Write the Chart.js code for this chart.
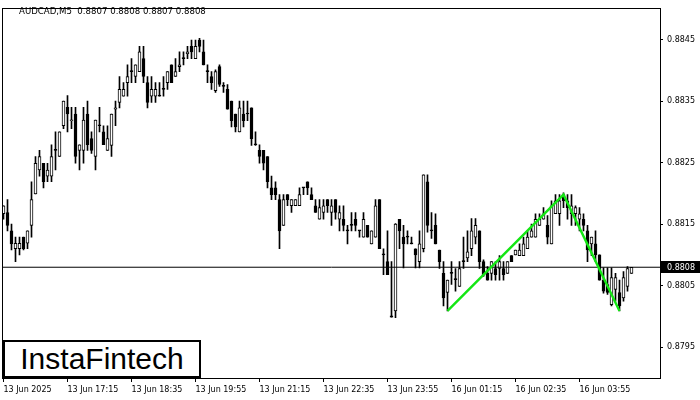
<!DOCTYPE html>
<html lang="en">
<head>
<meta charset="utf-8">
<title>AUDCAD,M5</title>
<script src="https://cdn.jsdelivr.net/npm/chart.js@4"></script>
<style>
  body { margin: 0; background: #fff; }
  #wrap { position: relative; width: 700px; height: 400px; }
  #hdr { position: absolute; left: 19px; top: 6px; font: 8.6px "DejaVu Sans", sans-serif; color: #000; white-space: pre; }
  #logo { position: absolute; left: 3px; top: 340px; width: 198px; height: 38px; box-sizing: border-box;
          border: 2px solid #000; background: #fff; font: 30px "Liberation Sans", Arial, sans-serif;
          line-height: 34px; text-align: center; color: #000; }
</style>
</head>
<body>
<div id="wrap">
  <canvas id="chart" width="700" height="400"></canvas>
  <div id="hdr">AUDCAD,M5  0.8807 0.8808 0.8807 0.8808</div>
  <div id="logo">InstaFintech</div>
</div>
<script>
// AUDCAD M5 candles, 13 Jun 15:55 -> 16 Jun 04:30
const openP = [0.88167,0.88169,0.88139,0.88110,0.88110,0.88129,0.88119,0.88148,0.88199,0.88238,
  0.88249,0.88228,0.88228,0.88270,0.88260,0.88310,0.88340,0.88318,0.88329,0.88270,
  0.88270,0.88329,0.88289,0.88260,0.88310,0.88300,0.88270,0.88278,0.88337,0.88348,
  0.88358,0.88380,0.88398,0.88390,0.88398,0.88419,0.88380,0.88358,0.88358,0.88358,
  0.88369,0.88380,0.88409,0.88390,0.88406,0.88419,0.88427,0.88439,0.88419,0.88449,
  0.88430,0.88398,0.88390,0.88367,0.88406,0.88374,0.88369,0.88350,0.88329,0.88300,
  0.88329,0.88329,0.88339,0.88279,0.88270,0.88270,0.88260,0.88209,0.88209,0.88190,
  0.88148,0.88198,0.88180,0.88180,0.88180,0.88209,0.88219,0.88198,0.88180,0.88158,
  0.88169,0.88190,0.88169,0.88190,0.88158,0.88158,0.88139,0.88148,0.88158,0.88139,
  0.88129,0.88148,0.88118,0.88129,0.88190,0.88100,0.88089,0.88001,0.88009,0.88158,
  0.88129,0.88129,0.88118,0.88110,0.88089,0.88110,0.88219,0.88139,0.88148,0.88108,
  0.88070,0.88039,0.88070,0.88060,0.88049,0.88089,0.88095,0.88110,0.88129,0.88139,
  0.88089,0.88070,0.88070,0.88078,0.88078,0.88078,0.88070,0.88099,0.88100,0.88099,
  0.88099,0.88110,0.88129,0.88129,0.88148,0.88158,0.88148,0.88118,0.88167,0.88167,
  0.88198,0.88188,0.88167,0.88167,0.88158,0.88158,0.88139,0.88118,0.88118,0.88100,
  0.88059,0.88052,0.88019,0.88044,0.88039,0.88030,0.88049,0.88070];

const highP = [0.88180,0.88190,0.88150,0.88129,0.88129,0.88129,0.88139,0.88219,0.88260,0.88270,
  0.88249,0.88249,0.88279,0.88300,0.88300,0.88350,0.88359,0.88340,0.88340,0.88279,
  0.88340,0.88350,0.88300,0.88319,0.88340,0.88310,0.88310,0.88329,0.88350,0.88390,
  0.88380,0.88409,0.88419,0.88409,0.88439,0.88439,0.88390,0.88390,0.88380,0.88380,
  0.88390,0.88398,0.88409,0.88419,0.88430,0.88430,0.88439,0.88449,0.88449,0.88452,
  0.88449,0.88409,0.88398,0.88401,0.88409,0.88380,0.88377,0.88350,0.88329,0.88350,
  0.88350,0.88350,0.88339,0.88300,0.88279,0.88270,0.88260,0.88228,0.88219,0.88198,
  0.88198,0.88198,0.88190,0.88190,0.88209,0.88209,0.88219,0.88209,0.88190,0.88190,
  0.88190,0.88190,0.88190,0.88190,0.88180,0.88180,0.88148,0.88169,0.88169,0.88139,
  0.88169,0.88148,0.88139,0.88190,0.88190,0.88110,0.88139,0.88089,0.88151,0.88158,
  0.88148,0.88139,0.88129,0.88110,0.88139,0.88230,0.88230,0.88169,0.88167,0.88108,
  0.88089,0.88059,0.88089,0.88078,0.88089,0.88129,0.88139,0.88159,0.88159,0.88139,
  0.88092,0.88081,0.88089,0.88089,0.88099,0.88089,0.88089,0.88099,0.88108,0.88118,
  0.88129,0.88139,0.88150,0.88167,0.88167,0.88177,0.88164,0.88188,0.88198,0.88198,
  0.88201,0.88198,0.88198,0.88180,0.88177,0.88167,0.88148,0.88129,0.88139,0.88100,
  0.88079,0.88079,0.88079,0.88070,0.88059,0.88073,0.88081,0.88080];

const lowP = [0.88158,0.88139,0.88108,0.88089,0.88100,0.88108,0.88110,0.88129,0.88199,0.88228,
  0.88209,0.88219,0.88219,0.88238,0.88260,0.88305,0.88300,0.88305,0.88249,0.88238,
  0.88249,0.88270,0.88265,0.88238,0.88300,0.88279,0.88270,0.88260,0.88310,0.88339,
  0.88358,0.88358,0.88380,0.88380,0.88398,0.88380,0.88339,0.88348,0.88348,0.88358,
  0.88358,0.88369,0.88380,0.88390,0.88398,0.88409,0.88419,0.88419,0.88419,0.88430,
  0.88409,0.88380,0.88369,0.88364,0.88374,0.88364,0.88337,0.88308,0.88300,0.88300,
  0.88308,0.88318,0.88278,0.88278,0.88249,0.88238,0.88209,0.88190,0.88190,0.88110,
  0.88148,0.88180,0.88169,0.88180,0.88180,0.88198,0.88198,0.88190,0.88169,0.88158,
  0.88158,0.88169,0.88148,0.88158,0.88139,0.88139,0.88118,0.88139,0.88139,0.88129,
  0.88129,0.88129,0.88118,0.88129,0.88110,0.88068,0.88068,0.87999,0.87998,0.88110,
  0.88079,0.88118,0.88118,0.88079,0.88079,0.88105,0.88137,0.88127,0.88118,0.88078,
  0.88017,0.88009,0.88052,0.88041,0.88049,0.88078,0.88089,0.88099,0.88118,0.88078,
  0.88065,0.88059,0.88059,0.88059,0.88059,0.88059,0.88070,0.88089,0.88100,0.88099,
  0.88099,0.88110,0.88129,0.88129,0.88148,0.88158,0.88118,0.88118,0.88167,0.88148,
  0.88177,0.88158,0.88148,0.88148,0.88139,0.88139,0.88089,0.88099,0.88089,0.88059,
  0.88038,0.88036,0.88017,0.88025,0.88009,0.88025,0.88041,0.88070];

const closeP = [0.88180,0.88148,0.88118,0.88119,0.88119,0.88110,0.88139,0.88190,0.88249,0.88260,
  0.88219,0.88238,0.88260,0.88270,0.88300,0.88350,0.88329,0.88319,0.88260,0.88279,
  0.88319,0.88279,0.88270,0.88319,0.88310,0.88279,0.88289,0.88329,0.88339,0.88369,
  0.88369,0.88390,0.88398,0.88409,0.88430,0.88390,0.88348,0.88369,0.88369,0.88358,
  0.88369,0.88398,0.88380,0.88398,0.88409,0.88419,0.88430,0.88430,0.88439,0.88439,
  0.88409,0.88398,0.88380,0.88398,0.88377,0.88374,0.88337,0.88318,0.88308,0.88339,
  0.88318,0.88329,0.88289,0.88279,0.88260,0.88249,0.88219,0.88198,0.88198,0.88139,
  0.88190,0.88190,0.88190,0.88190,0.88198,0.88209,0.88209,0.88190,0.88169,0.88177,
  0.88180,0.88180,0.88180,0.88169,0.88169,0.88148,0.88139,0.88148,0.88148,0.88139,
  0.88158,0.88129,0.88139,0.88180,0.88110,0.88100,0.88068,0.87999,0.88150,0.88139,
  0.88118,0.88129,0.88118,0.88100,0.88118,0.88230,0.88148,0.88139,0.88118,0.88089,
  0.88030,0.88059,0.88070,0.88060,0.88078,0.88089,0.88105,0.88139,0.88148,0.88089,
  0.88067,0.88059,0.88089,0.88068,0.88089,0.88068,0.88089,0.88089,0.88108,0.88108,
  0.88118,0.88129,0.88139,0.88158,0.88158,0.88167,0.88129,0.88180,0.88188,0.88188,
  0.88188,0.88177,0.88180,0.88177,0.88167,0.88148,0.88108,0.88129,0.88100,0.88059,
  0.88041,0.88039,0.88063,0.88063,0.88017,0.88063,0.88078,0.88080];

// time axis labels, one every 16 bars (80 minutes)
const xTickPos = [0, 16, 32, 48, 64, 80, 96, 112, 128, 144];
const xTickLabels = ["13 Jun 2025", "13 Jun 17:15", "13 Jun 18:35", "13 Jun 19:55", "13 Jun 21:15",
  "13 Jun 22:35", "13 Jun 23:55", "16 Jun 01:15", "16 Jun 02:35", "16 Jun 03:55"];
const yTicks = [0.8795, 0.8805, 0.8815, 0.8825, 0.8835, 0.8845];

// double bottom pattern (low, peak, low)
const patternIdx = [111, 140, 154];
const patternPrice = [0.88009, 0.88198, 0.88009];
const lastPrice = 0.8808;

const xMin = -0.125, xMax = 164.125;
const axisFont = { family: "DejaVu Sans", size: 8 };

const idx = openP.map((_, i) => i);
const wickData = idx.map(i => ({ x: i, y: [lowP[i], highP[i]] }));
const bodyData = idx.map(i => ({ x: i, y: [Math.min(openP[i], closeP[i]), Math.max(openP[i], closeP[i])] }));
const bodyFill = idx.map(i => closeP[i] > openP[i] ? "#ffffff" : "#000000");
const patternData = patternIdx.map((v, i) => ({ x: v, y: patternPrice[i] }));

const framePlugin = {
  id: "frame",
  afterDraw(chart) {
    const { ctx, chartArea: a, scales } = chart;
    ctx.save();
    ctx.strokeStyle = "#000";
    ctx.lineWidth = 1;
    ctx.strokeRect(Math.round(a.left) - 0.5, Math.round(a.top) - 0.5,
      Math.round(a.right - a.left) + 1, Math.round(a.bottom - a.top) + 1);
    // current price tag
    const py = Math.round(scales.y.getPixelForValue(lastPrice));
    ctx.fillStyle = "#000";
    ctx.fillRect(Math.round(a.right) + 1, py - 6, 39, 12);
    ctx.fillStyle = "#fff";
    ctx.font = '8px "DejaVu Sans"';
    ctx.textBaseline = "middle";
    ctx.fillText(lastPrice.toFixed(4), Math.round(a.right) + 7, py + 1);
    ctx.restore();
  }
};

new Chart(document.getElementById("chart"), {
  type: "bar",
  data: {
    datasets: [
      { type: "line", data: patternData, borderColor: "rgb(20,230,20)", borderWidth: 2.4,
        pointRadius: 0, order: 0 },
      { type: "line", data: [{ x: xMin, y: lastPrice }, { x: xMax, y: lastPrice }],
        borderColor: "#000", borderWidth: 1, pointRadius: 0, order: 0 },
      { data: bodyData, backgroundColor: bodyFill, borderColor: "#000", borderWidth: 1,
        borderSkipped: false, barThickness: 3, minBarLength: 1, grouped: false, order: 1 },
      { data: wickData, backgroundColor: "#000", borderWidth: 0, barThickness: 1,
        grouped: false, order: 2 }
    ]
  },
  options: {
    responsive: false,
    animation: false,
    events: [],
    layout: { padding: { left: 3, top: 3, right: 0, bottom: 0 } },
    plugins: { legend: { display: false }, tooltip: { enabled: false } },
    scales: {
      x: {
        type: "linear", min: xMin, max: xMax, offset: false,
        grid: { drawOnChartArea: false, drawTicks: true, tickLength: 4, color: "#000", offset: false },
        border: { display: false },
        afterBuildTicks: s => { s.ticks = xTickPos.map(v => ({ value: v })); },
        afterFit: s => { s.height = 22; },
        ticks: { autoSkip: false, maxRotation: 0, minRotation: 0, align: "start", padding: 3,
          color: "#000", font: axisFont, callback: (v, i) => xTickLabels[i] }
      },
      y: {
        position: "right", min: 0.879, max: 0.885,
        grid: { drawOnChartArea: false, drawTicks: true, tickLength: 3, color: "#000" },
        border: { display: false },
        afterBuildTicks: s => { s.ticks = yTicks.map(v => ({ value: v })); },
        afterFit: s => { s.width = 40; },
        ticks: { padding: 4, color: "#000", font: axisFont, callback: v => v.toFixed(4) }
      }
    }
  },
  plugins: [framePlugin]
});
</script>
</body>
</html>
